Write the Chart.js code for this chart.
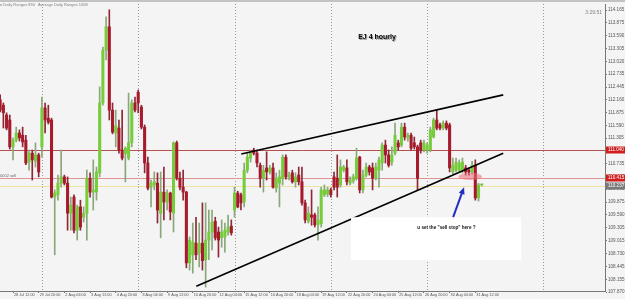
<!DOCTYPE html>
<html lang="en">
<head>
<meta charset="UTF-8">
<title>EJ 4 hourly</title>
<script src="https://cdn.jsdelivr.net/npm/chart.js"></script>
<style>
  html, body { margin: 0; padding: 0; background: #f4f4f4; }
  .wrap { position: relative; width: 625px; height: 299px; }
</style>
</head>
<body>
<div class="wrap"><canvas id="ejChart"></canvas></div>
<script>
// EURJPY H4 candles (one entry per bar)
const opens = [112.16,112.04,111.82,111.71,111.11,111.26,111.42,111.37,111.26,110.77,
  110.97,110.79,110.93,111.11,111.98,111.75,111.71,109.99,110.04,110.30,
  110.44,110.30,109.63,109.99,109.25,109.77,109.54,109.63,110.41,110.10,
  110.10,110.53,112.09,113.27,113.79,111.93,111.42,111.53,111.04,110.96,
  110.86,111.20,112.09,112.33,112.00,111.55,110.75,110.21,110.26,110.30,
  109.63,110.10,109.88,110.08,109.63,111.20,110.41,110.21,110.10,108.52,
  108.70,108.96,108.74,108.96,108.59,109.03,109.21,109.45,109.21,109.08,
  109.10,109.21,109.34,109.70,110.08,110.04,109.88,110.59,110.86,111.04,
  110.97,110.70,110.41,110.64,110.55,110.64,110.19,110.30,110.41,110.88,
  110.44,110.53,110.33,110.48,110.33,109.86,109.45,109.59,109.59,109.37,
  109.39,110.04,110.06,110.15,110.44,110.41,110.26,110.59,110.64,110.30,
  110.35,110.41,110.88,110.15,110.48,110.66,110.64,110.41,110.59,110.75,
  111.15,110.93,110.77,110.97,111.20,111.15,111.55,111.31,111.37,111.20,
  111.11,111.20,111.04,111.04,111.04,111.33,111.71,111.60,111.53,111.64,
  111.60,110.55,110.59,110.59,110.59,110.64,110.59,110.55,110.70,109.97,
  110.26];
const highs = [112.27,112.09,111.87,111.82,111.31,111.55,111.49,111.55,111.37,111.04,
  111.04,111.20,110.97,112.22,112.09,112.04,111.75,110.15,110.48,111.04,
  110.48,110.44,109.99,110.04,109.81,109.92,109.77,110.59,110.53,110.82,
  110.66,112.45,113.34,114.01,114.17,112.09,111.93,111.71,111.93,111.11,
  112.31,112.16,112.22,112.38,112.04,111.60,110.88,110.37,110.55,110.53,
  110.55,110.66,110.15,110.10,111.22,111.24,110.55,110.59,110.12,109.10,
  109.41,109.54,109.41,109.86,109.86,109.70,109.70,109.54,109.32,109.48,
  109.41,109.59,109.48,110.21,110.12,110.08,110.75,110.97,111.04,111.08,
  111.04,110.75,110.70,111.00,110.70,110.75,110.53,110.59,110.93,110.93,
  110.55,110.59,110.53,110.66,110.66,109.92,109.77,110.15,109.63,109.77,
  110.21,110.26,110.21,110.19,110.55,110.93,110.82,110.70,110.82,110.44,
  110.50,111.08,110.90,110.59,110.75,110.70,110.75,110.75,110.88,111.20,
  111.26,111.04,111.11,111.64,111.26,111.64,111.64,111.42,111.42,111.33,
  111.15,111.26,111.26,111.20,111.55,111.75,111.93,111.64,111.69,111.69,
  111.64,110.86,110.86,110.82,110.86,110.70,110.64,110.79,110.82,110.30,
  110.28];
const lows = [111.89,111.53,111.49,111.06,110.82,111.22,111.24,111.11,110.71,110.59,
  110.37,110.66,110.44,110.88,111.42,111.62,109.97,108.70,109.92,110.21,
  110.26,109.25,109.25,109.19,109.03,109.25,109.43,109.03,109.99,109.70,
  109.92,110.44,112.04,113.05,111.71,111.40,111.11,110.97,110.82,110.33,
  110.82,111.11,111.89,111.87,111.51,110.53,110.15,109.77,110.15,109.41,
  109.08,109.48,109.70,109.48,109.21,110.37,110.15,109.92,108.41,108.36,
  108.29,108.59,108.43,108.36,107.98,108.59,108.81,109.03,108.65,108.87,
  108.76,109.14,109.14,109.54,109.75,109.70,109.77,110.53,110.77,110.93,
  110.66,110.21,110.10,110.37,110.50,110.19,110.10,109.77,110.26,110.39,
  110.37,110.30,110.21,110.26,109.81,109.41,109.41,109.36,109.32,109.03,
  109.32,110.00,110.00,109.99,110.15,109.99,110.21,110.55,110.26,110.26,
  110.30,110.37,110.08,110.08,110.44,110.48,110.15,110.37,110.21,110.59,
  110.75,110.66,110.70,110.93,111.04,111.11,111.26,111.24,111.04,111.06,
  110.15,110.97,111.00,110.97,111.00,111.31,111.49,111.49,111.49,111.49,
  110.55,110.50,110.55,110.55,110.53,110.48,110.48,110.50,109.92,109.90,
  110.24];
const closes = [111.93,111.87,111.53,111.11,111.26,111.42,111.31,111.22,110.75,110.97,
  110.82,110.93,110.55,111.98,111.71,111.66,109.99,110.08,110.30,110.44,
  110.30,109.63,109.81,109.25,109.77,109.32,109.63,110.41,110.10,110.15,
  110.55,112.09,113.27,113.79,111.93,111.44,111.58,111.04,110.86,111.08,
  111.20,112.09,111.93,112.09,111.55,110.75,110.19,110.30,110.33,109.70,
  110.10,109.88,110.08,109.66,111.20,110.41,110.21,110.10,108.52,109.03,
  108.99,108.70,108.96,108.57,109.03,109.21,109.43,109.08,109.03,109.21,
  109.25,109.32,109.19,110.08,109.77,109.86,110.59,110.88,110.97,110.97,
  110.75,110.41,110.59,110.55,110.64,110.21,110.41,110.44,110.88,110.44,
  110.48,110.33,110.44,110.33,109.86,109.48,109.63,109.54,109.37,109.48,
  110.15,110.15,110.15,110.04,110.21,110.21,110.66,110.66,110.33,110.37,
  110.44,110.86,110.15,110.48,110.66,110.55,110.41,110.66,110.82,111.15,
  110.93,110.70,110.93,111.37,111.11,111.55,111.33,111.37,111.08,111.11,
  110.41,111.04,111.20,111.15,111.49,111.71,111.53,111.53,111.64,111.53,
  110.64,110.70,110.77,110.75,110.77,110.55,110.55,110.70,109.97,110.26,
  110.26];

// time axis: a label every 8 bars
const timeTickIdx = [4, 12, 20, 28, 36, 44, 52, 60, 68, 76, 84, 92, 100, 108, 116, 124, 132, 140, 148];
const timeTickLabels = ['28 Jul 12:00', '29 Jul 20:00', '2 Aug 04:00', '3 Aug 12:00', '4 Aug 20:00', '8 Aug 04:00',
  '9 Aug 12:00', '10 Aug 20:00', '12 Aug 04:00', '15 Aug 12:00', '16 Aug 20:00', '18 Aug 04:00', '19 Aug 12:00',
  '22 Aug 20:00', '24 Aug 04:00', '25 Aug 12:00', '26 Aug 20:00', '30 Aug 04:00', '31 Aug 12:00'];
const weekStartIdx = [13, 43, 73, 103, 133, 169];

const priceTickLabels = ['107.870', '108.155', '108.445', '108.730', '109.015', '109.305', '109.590', '109.875',
  '110.165', '110.445', '110.735', '111.020', '111.305', '111.590', '111.875', '112.160', '112.445', '112.735',
  '113.020', '113.305', '113.590', '113.875', '114.165'];
const priceTicks = priceTickLabels.map(Number);

// horizontal levels (sell order line, bid line)
const levelPrices = [111.040, 110.415, 110.237];
const levelLabels = ['111.040', '110.415', '110.237'];
const levelColors = ['#b4504e', '#dc9494', '#efe3a4'];
const levelBoxColors = ['#d01e1e', '#d01e1e', '#7a7a7a'];

// hand drawn wedge
const upperTrend = [{x: 75.1, y: 110.95}, {x: 156.7, y: 112.27}];
const lowerTrend = [{x: 61.1, y: 108.00}, {x: 156.7, y: 110.97}];

const isBull = i => closes[i] >= opens[i];

const overlay = {
    id: 'overlay',
    beforeDraw(chart) {
        const ctx = chart.ctx;
        ctx.save();
        ctx.fillStyle = '#f4f4f4';
        ctx.fillRect(0, 0, chart.width, chart.height);
        ctx.fillStyle = '#c2c2c2';
        ctx.fillRect(0, 0, chart.width, 2);
        ctx.restore();
    },
    beforeDatasetsDraw(chart) {
        const {ctx, chartArea, scales: {x, y}} = chart;
        ctx.save();
        // weekly separators
        ctx.strokeStyle = '#9a9a9a';
        ctx.lineWidth = 1;
        ctx.setLineDash([1, 2]);
        weekStartIdx.forEach(i => {
            const px = Math.round(x.getPixelForValue(i)) + 0.5;
            ctx.beginPath();
            ctx.moveTo(px, chartArea.top);
            ctx.lineTo(px, chartArea.bottom);
            ctx.stroke();
        });
        ctx.setLineDash([]);
        levelPrices.forEach((p, k) => {
            const py = Math.round(y.getPixelForValue(p)) + 0.5;
            ctx.strokeStyle = levelColors[k];
            ctx.beginPath();
            ctx.moveTo(chartArea.left, py);
            ctx.lineTo(chartArea.right, py);
            ctx.stroke();
        });
        ctx.restore();
    },
    afterDraw(chart) {
        const {ctx, chartArea, scales: {x, y}} = chart;
        ctx.save();

        // price boxes on the axis
        levelPrices.forEach((p, k) => {
            const py = y.getPixelForValue(p);
            ctx.fillStyle = levelBoxColors[k];
            ctx.fillRect(chartArea.right + 1, py - 3.5, 20, 7);
            ctx.fillStyle = '#fff';
            ctx.font = '4.6px "Liberation Sans"';
            ctx.textBaseline = 'middle';
            ctx.textAlign = 'left';
            ctx.fillText(levelLabels[k], chartArea.right + 3, py);
        });

        // order label on the left
        ctx.fillStyle = '#666';
        ctx.font = '4px "Liberation Sans"';
        ctx.textBaseline = 'bottom';
        ctx.fillText('0002 sell', 0, y.getPixelForValue(levelPrices[1]) - 0.5);

        // indicator text and bar timer
        ctx.fillStyle = '#808080';
        ctx.textBaseline = 'middle';
        ctx.fillText('e Daily Ranges 890', 0, 5);
        ctx.fillText('Average Daily Ranges 1068', 38, 5);
        ctx.font = '5px "Liberation Sans"';
        ctx.textAlign = 'right';
        ctx.fillText('3:29:51', 602, 13);

        // title
        ctx.textAlign = 'center';
        ctx.font = 'bold 7px "Liberation Sans"';
        const tx = x.getPixelForValue(117.4), ty = y.getPixelForValue(113.56);
        ctx.fillStyle = '#9a9a9a';
        ctx.fillText('EJ 4 hourly', tx + 1, ty + 1);
        ctx.fillStyle = '#000';
        ctx.fillText('EJ 4 hourly', tx, ty);

        // highlight where the order sits
        const ex = x.getPixelForValue(146.4), ey = y.getPixelForValue(110.45);
        const rx = x.getPixelForValue(150.1) - ex, ry = ey - y.getPixelForValue(110.53);
        ctx.fillStyle = 'rgba(236, 108, 120, 0.55)';
        ctx.beginPath();
        ctx.ellipse(ex, ey, rx, ry, 0, 0, Math.PI * 2);
        ctx.fill();

        // note box
        const bx0 = x.getPixelForValue(109.3), bx1 = x.getPixelForValue(162.3);
        const by0 = y.getPixelForValue(109.54), by1 = y.getPixelForValue(108.58);
        ctx.fillStyle = '#ffffff';
        ctx.fillRect(bx0, by0, bx1 - bx0, by1 - by0);
        ctx.fillStyle = '#111';
        ctx.font = 'bold 4.6px "Liberation Sans"';
        ctx.fillText('u set the "sell stop" here ?', x.getPixelForValue(139), y.getPixelForValue(109.30));

        // blue arrow
        const ax0 = x.getPixelForValue(141.1), ay0 = y.getPixelForValue(109.54);
        const ax1 = x.getPixelForValue(144.5), ay1 = y.getPixelForValue(110.21);
        const ang = Math.atan2(ay1 - ay0, ax1 - ax0);
        ctx.strokeStyle = '#1f2fc4';
        ctx.fillStyle = '#1f2fc4';
        ctx.lineWidth = 2;
        ctx.beginPath();
        ctx.moveTo(ax0, ay0);
        ctx.lineTo(ax1 - 4 * Math.cos(ang), ay1 - 4 * Math.sin(ang));
        ctx.stroke();
        ctx.beginPath();
        ctx.moveTo(ax1, ay1);
        ctx.lineTo(ax1 - 7 * Math.cos(ang) + 3 * Math.sin(ang), ay1 - 7 * Math.sin(ang) - 3 * Math.cos(ang));
        ctx.lineTo(ax1 - 7 * Math.cos(ang) - 3 * Math.sin(ang), ay1 - 7 * Math.sin(ang) + 3 * Math.cos(ang));
        ctx.closePath();
        ctx.fill();

        ctx.restore();
    }
};

new Chart(document.getElementById('ejChart'), {
    type: 'bar',
    data: {
        datasets: [
            {
                type: 'line', order: 0, data: upperTrend,
                borderColor: '#000', borderWidth: 1.6, pointRadius: 0, fill: false
            },
            {
                type: 'line', order: 0, data: lowerTrend,
                borderColor: '#000', borderWidth: 1.6, pointRadius: 0, fill: false
            },
            {
                type: 'bar', order: 1, grouped: false, minBarLength: 1, barThickness: 2.4,
                data: opens.map((o, i) => ({x: i, y: [o, closes[i]]})),
                backgroundColor: ctx => isBull(ctx.dataIndex) ? '#76cc3a' : '#a61a2c'
            },
            {
                type: 'bar', order: 2, grouped: false, barThickness: 1,
                data: opens.map((o, i) => ({x: i, y: [lows[i], highs[i]]})),
                backgroundColor: ctx => isBull(ctx.dataIndex) ? '#88a87a' : '#8e2736'
            }
        ]
    },
    options: {
        responsive: true,
        maintainAspectRatio: false,
        animation: false,
        events: [],
        layout: { padding: { top: 4, left: 0, right: 0, bottom: 0 } },
        plugins: { legend: { display: false }, tooltip: { enabled: false } },
        scales: {
            x: {
                type: 'linear', min: -0.05, max: 188.4, offset: false,
                afterBuildTicks: s => { s.ticks = timeTickIdx.map(v => ({value: v})); },
                afterFit: s => { s.height = 8; },
                ticks: {
                    autoSkip: false, maxRotation: 0, align: 'start', labelOffset: 1, padding: 0,
                    font: { family: 'Liberation Sans', size: 3.8, lineHeight: 1 }, color: '#555',
                    callback: (v, i) => timeTickLabels[i]
                },
                grid: { drawOnChartArea: false, offset: false, tickLength: 2, color: '#777' },
                border: { color: '#777' }
            },
            y: {
                type: 'linear', position: 'right', min: 107.893, max: 114.299,
                afterBuildTicks: s => { s.ticks = priceTicks.map(v => ({value: v})); },
                afterFit: s => { s.width = 20; },
                ticks: {
                    padding: 1,
                    font: { family: 'Liberation Sans', size: 4.6, lineHeight: 1 }, color: '#555',
                    callback: (v, i) => priceTickLabels[i]
                },
                grid: { drawOnChartArea: false, tickLength: 2, color: '#777' },
                border: { color: '#777' }
            }
        }
    },
    plugins: [overlay]
});
</script>
</body>
</html>
